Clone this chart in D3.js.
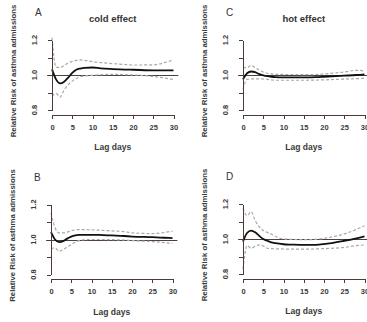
<!DOCTYPE html>
<meta charset="utf-8">
<style>
body { margin: 0; background: #fff; }
text { font-family: "Liberation Sans", Arial, sans-serif; }
.axis path, .axis line { stroke: #4a3c35; shape-rendering: crispEdges; }
</style>
<body>
<script src="https://d3js.org/d3.v7.min.js"></script>
<script>

var lags = [0, 1, 2, 3, 4, 5, 6, 7, 8, 10, 12, 15, 18, 20, 25, 28, 30];

// panel A: cold effect, upper
var coldA_fit = [1.032, 0.975, 0.952, 0.962, 0.985, 1.012, 1.030, 1.037, 1.041, 1.043, 1.038, 1.034, 1.031, 1.030, 1.027, 1.027, 1.027];
var coldA_hi  = [1.213, 1.045, 1.042, 1.055, 1.068, 1.078, 1.084, 1.086, 1.084, 1.076, 1.071, 1.065, 1.060, 1.057, 1.058, 1.072, 1.086];
var coldA_lo  = [0.880, 0.895, 0.874, 0.915, 0.945, 0.965, 0.980, 0.990, 0.995, 0.998, 1.001, 1.004, 1.002, 1.000, 0.992, 0.982, 0.975];

// panel B: cold effect, lower
var coldB_fit = [1.042, 1.000, 0.985, 0.990, 1.005, 1.016, 1.023, 1.026, 1.027, 1.027, 1.026, 1.023, 1.020, 1.017, 1.013, 1.010, 1.008];
var coldB_hi  = [1.152, 1.067, 1.038, 1.038, 1.042, 1.050, 1.055, 1.057, 1.057, 1.055, 1.053, 1.049, 1.045, 1.038, 1.034, 1.040, 1.048];
var coldB_lo  = [0.947, 0.952, 0.933, 0.942, 0.957, 0.971, 0.985, 0.994, 0.998, 1.000, 1.000, 0.999, 0.997, 0.994, 0.988, 0.982, 0.977];

// panel C: hot effect, upper
var hotC_fit = [0.975, 1.010, 1.020, 1.016, 1.005, 0.998, 0.993, 0.990, 0.988, 0.987, 0.987, 0.987, 0.988, 0.990, 0.996, 1.000, 1.004];
var hotC_hi  = [1.042, 1.042, 1.055, 1.042, 1.028, 1.017, 1.010, 1.006, 1.004, 1.003, 1.003, 1.002, 1.003, 1.006, 1.017, 1.027, 1.023];
var hotC_lo  = [0.918, 0.975, 0.978, 0.978, 0.978, 0.977, 0.975, 0.972, 0.970, 0.970, 0.970, 0.970, 0.971, 0.972, 0.977, 0.979, 0.981];

// panel D: hot effect, lower
var hotD_fit = [0.985, 1.034, 1.048, 1.038, 1.018, 1.000, 0.990, 0.981, 0.976, 0.970, 0.968, 0.966, 0.967, 0.971, 0.990, 1.004, 1.015];
var hotD_hi  = [1.175, 1.133, 1.156, 1.105, 1.070, 1.048, 1.038, 1.028, 1.016, 1.000, 0.998, 0.996, 0.998, 1.004, 1.029, 1.055, 1.076];
var hotD_lo  = [0.829, 0.962, 0.947, 0.958, 0.966, 0.960, 0.947, 0.945, 0.944, 0.943, 0.942, 0.942, 0.943, 0.945, 0.952, 0.962, 0.966];

var xTicks = [0, 5, 10, 15, 20, 25, 30];
var yTicks = [0.8, 0.9, 1.0, 1.1, 1.2];
var yLabels = [0.8, 1.0, 1.2];

var panels = [
  {letter: "A", title: "cold effect", fit: coldA_fit, hi: coldA_hi, lo: coldA_lo, x0: 52, y0: 40},
  {letter: "B", title: "", fit: coldB_fit, hi: coldB_hi, lo: coldB_lo, x0: 51, y0: 204.5},
  {letter: "C", title: "hot effect", fit: hotC_fit, hi: hotC_hi, lo: hotC_lo, x0: 243, y0: 40},
  {letter: "D", title: "", fit: hotD_fit, hi: hotD_hi, lo: hotD_lo, x0: 243, y0: 204}
];

var width = 367, height = 322;
var pw = 121.5, ph = 70;

var svg = d3.select("body").append("svg")
    .attr("width", width)
    .attr("height", height);

panels.forEach(function(p) {
  var x = d3.scaleLinear().domain([0, 30]).range([p.x0, p.x0 + pw]);
  var y = d3.scaleLinear().domain([0.8, 1.2]).range([p.y0 + ph, p.y0]);
  var g = svg.append("g");

  // reference line at 1, across the plot region
  g.append("line")
      .attr("x1", x(-1.2)).attr("x2", x(31.2))
      .attr("y1", Math.round(y(1)) + 0.5).attr("y2", Math.round(y(1)) + 0.5)
      .attr("stroke", "#4f413a")
      .attr("stroke-width", 1);

  var line = function(vals) {
    return d3.line()
        .x(function(d, i) { return x(lags[i]); })
        .y(function(d) { return y(d); })
        .curve(d3.curveMonotoneX)(vals);
  };

  g.append("path").attr("d", line(p.hi))
      .attr("fill", "none").attr("stroke", "#a8a8a8")
      .attr("stroke-width", 1.2).attr("stroke-dasharray", "3,2");
  g.append("path").attr("d", line(p.lo))
      .attr("fill", "none").attr("stroke", "#a8a8a8")
      .attr("stroke-width", 1.2).attr("stroke-dasharray", "3,2");
  g.append("path").attr("d", line(p.fit))
      .attr("fill", "none").attr("stroke", "#111")
      .attr("stroke-width", 1.8);

  // y axis
  var ya = g.append("g").attr("class", "axis")
      .attr("transform", "translate(" + p.x0 + ",0)")
      .call(d3.axisLeft(y).tickValues(yTicks).tickSize(4).tickSizeOuter(0).tickFormat(""));
  ya.selectAll("text").remove();
  yLabels.forEach(function(v) {
    g.append("text")
        .attr("transform", "translate(" + (p.x0 - 15) + "," + y(v) + ") rotate(-90)")
        .attr("text-anchor", "middle")
        .attr("font-size", "7.5px").attr("font-weight", "bold")
        .attr("fill", "#3a3a3a")
        .text(d3.format(".1f")(v));
  });

  // x axis, set below the plot as R does
  var xa = g.append("g").attr("class", "axis")
      .attr("transform", "translate(0," + (p.y0 + ph + 4.5) + ")")
      .call(d3.axisBottom(x).tickValues(xTicks).tickSize(4).tickSizeOuter(0).tickPadding(6));
  xa.selectAll("text")
      .attr("font-family", "Liberation Sans, Arial, sans-serif")
      .attr("font-size", "7.5px").attr("font-weight", "bold")
      .attr("fill", "#3a3a3a");

  g.append("text")
      .attr("x", p.x0 + pw / 2).attr("y", p.y0 + ph + 40)
      .attr("text-anchor", "middle")
      .attr("font-size", "8.5px").attr("font-weight", "bold")
      .attr("fill", "#3a3a3a")
      .text("Lag days");

  g.append("text")
      .attr("transform", "translate(" + (p.x0 - 36) + "," + (p.y0 + 31) + ") rotate(-90)")
      .attr("text-anchor", "middle")
      .attr("font-size", "7.8px").attr("font-weight", "bold")
      .attr("fill", "#3a3a3a")
      .text("Relative Risk of asthma admissions");

  g.append("text")
      .attr("x", p.x0 - 17).attr("y", p.y0 - 24)
      .attr("font-size", "10px")
      .attr("fill", "#333")
      .text(p.letter);

  if (p.title) {
    g.append("text")
        .attr("x", p.x0 + pw / 2).attr("y", p.y0 - 18)
        .attr("text-anchor", "middle")
        .attr("font-size", "9.5px").attr("font-weight", "bold")
        .attr("fill", "#333")
        .text(p.title);
  }
});

</script>
</body>
